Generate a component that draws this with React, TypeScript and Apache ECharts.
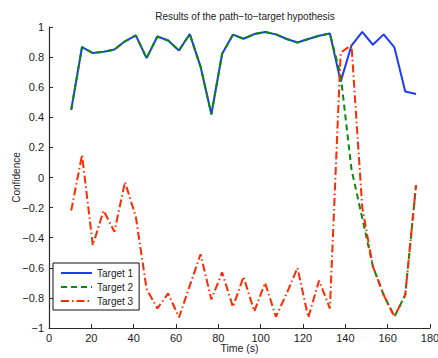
import React, { useEffect, useRef } from "react";
import * as echarts from "echarts";

const times = [10.5, 15.6, 20.7, 25.8, 30.9, 35.9, 41.0, 46.1, 51.2, 56.3, 61.4, 66.5, 71.6, 76.7, 81.8, 86.9, 91.9, 97.0, 102.1, 107.2, 112.3, 117.4, 122.5, 127.6, 132.7, 137.8, 142.9, 148.0, 153.0, 158.1, 163.2, 168.3, 173.4];

const target1 = [0.45, 0.867, 0.827, 0.835, 0.85, 0.905, 0.944, 0.793, 0.937, 0.91, 0.844, 0.953, 0.737, 0.42, 0.822, 0.949, 0.922, 0.953, 0.967, 0.951, 0.92, 0.897, 0.92, 0.942, 0.957, 0.637, 0.877, 0.967, 0.882, 0.951, 0.864, 0.571, 0.555];

const target2 = [0.45, 0.867, 0.827, 0.835, 0.85, 0.905, 0.944, 0.793, 0.937, 0.91, 0.844, 0.953, 0.737, 0.42, 0.822, 0.949, 0.922, 0.953, 0.967, 0.951, 0.92, 0.897, 0.92, 0.942, 0.957, 0.68, 0.055, -0.27, -0.59, -0.78, -0.925, -0.78, -0.05];

const target3 = [-0.22, 0.15, -0.45, -0.22, -0.36, -0.03, -0.26, -0.74, -0.87, -0.77, -0.93, -0.72, -0.51, -0.81, -0.63, -0.86, -0.66, -0.89, -0.7, -0.925, -0.77, -0.6, -0.93, -0.685, -0.87, 0.83, 0.88, -0.2, -0.59, -0.78, -0.925, -0.78, -0.05];

const seriesNames = ["Target 1", "Target 2", "Target 3"];
const titleText = "Results of the path\u2212to\u2212target hypothesis";
const xAxisName = "Time (s)";
const yAxisName = "Confidence";

const FONT = "'Liberation Sans', Arial, Helvetica, sans-serif";

const fmt = (v: number) => {
  const r = Math.round(v * 10) / 10;
  if (r === 0) return "0";
  const s = String(Math.abs(r));
  return (r < 0 ? "\u2212" : "") + s;
};

const pairs = (vals: number[]) => vals.map((v, i) => [times[i], v]);

export default function App() {
  const ref = useRef<HTMLDivElement>(null);
  useEffect(() => {
    if (!ref.current) return;
    const chart = echarts.init(ref.current, undefined, { renderer: "svg" });
    const axisCommon = {
      axisLine: { show: true, onZero: false, lineStyle: { color: "#2a2a2a", width: 1.2 } },
      axisTick: { show: true, inside: true, length: 4, lineStyle: { color: "#2a2a2a", width: 1 } },
      splitLine: { show: false },
      nameMoveOverlap: false,
    };
    chart.setOption({
      animation: false,
      backgroundColor: "#ffffff",
      textStyle: { fontFamily: FONT },
      title: {
        text: titleText,
        left: 240,
        top: 6,
        textAlign: "center",
        textStyle: { fontSize: 10, fontWeight: "normal", color: "#222", fontFamily: FONT },
      },
      grid: { left: 49, right: 8, top: 27, bottom: 30, containLabel: false, outerBoundsMode: "none" },
      xAxis: {
        type: "value",
        min: 0,
        max: 180,
        interval: 20,
        name: xAxisName,
        nameLocation: "middle",
        nameGap: 14,
        nameTextStyle: { fontSize: 10.5, color: "#222", fontFamily: FONT },
        axisLabel: { fontSize: 11, color: "#222", margin: 4, fontFamily: FONT },
        ...axisCommon,
      },
      yAxis: {
        type: "value",
        min: -1,
        max: 1,
        interval: 0.2,
        name: yAxisName,
        nameLocation: "middle",
        nameGap: 28,
        nameTextStyle: { fontSize: 10, color: "#222", fontFamily: FONT },
        axisLabel: { fontSize: 11, color: "#222", margin: 5, formatter: fmt, fontFamily: FONT },
        ...axisCommon,
      },
      legend: {
        orient: "vertical",
        left: 53,
        top: 263,
        width: 82,
        padding: [5, 6, 4, 7],
        itemWidth: 31,
        itemHeight: 12,
        itemGap: 4,
        backgroundColor: "#ffffff",
        borderColor: "#111",
        borderWidth: 1,
        borderRadius: 0,
        itemStyle: { opacity: 0 },
        textStyle: { fontSize: 10, color: "#222", fontFamily: FONT },
        data: seriesNames,
      },
      series: [
        {
          name: seriesNames[0],
          type: "line",
          data: pairs(target1),
          symbol: "none",
          lineStyle: { color: "#1e3cf0", width: 2, type: "solid" },
          itemStyle: { color: "#1e3cf0" },
        },
        {
          name: seriesNames[1],
          type: "line",
          data: pairs(target2),
          symbol: "none",
          lineStyle: { color: "#0a8a0a", width: 2, type: [6, 4] },
          itemStyle: { color: "#0a8a0a" },
        },
        {
          name: seriesNames[2],
          type: "line",
          data: pairs(target3),
          symbol: "none",
          lineStyle: { color: "#ff2a00", width: 2, type: [8, 3, 1.5, 3] },
          itemStyle: { color: "#ff2a00" },
        },
      ],
    });
    return () => chart.dispose();
  }, []);
  return (
    <div
      ref={ref}
      style={{ position: "fixed", left: 0, top: 0, width: 438, height: 358, background: "#fff" }}
    />
  );
}
